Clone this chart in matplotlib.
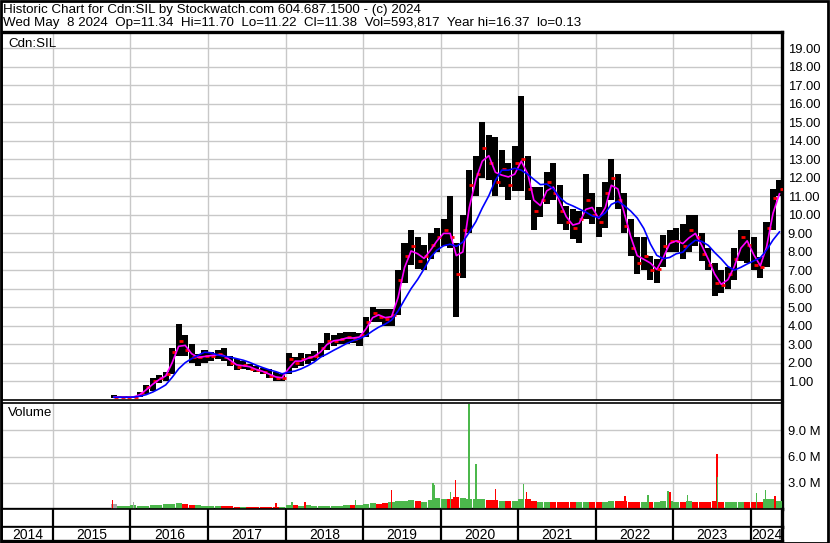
import matplotlib
matplotlib.use('Agg')
import matplotlib.pyplot as plt
from matplotlib.patches import Rectangle
import pandas as pd
import numpy as np

plt.rcParams['font.family'] = ['Liberation Sans', 'DejaVu Sans']

# monthly bars, Oct 2015 .. May 2024
months = pd.date_range('2015-10-01', '2024-05-01', freq='MS')

hi = [0.25, 0.20, 0.20,
      0.22, 0.45, 0.80, 1.20, 1.35, 1.50, 2.80, 4.10, 3.50, 3.00, 2.50, 2.70,
      2.60, 2.70, 2.80, 2.40, 2.20, 2.10, 1.95, 1.85, 1.75, 1.70, 1.50, 1.40,
      2.55, 2.30, 2.55, 2.50, 2.65, 3.10, 3.60, 3.50, 3.60, 3.70, 3.70, 3.60,
      4.50, 5.00, 4.90, 4.90, 4.90, 7.00, 8.50, 9.20, 8.80, 8.40, 9.00, 9.30,
      9.80, 11.0, 8.50, 10.0, 12.4, 13.2, 15.0, 14.3, 14.2, 13.5, 12.8, 13.7,
      16.4, 13.2, 11.5, 11.5, 12.3, 12.8, 11.6, 10.5, 10.3, 10.2, 12.2, 11.2,
      10.4, 11.8, 13.0, 12.2, 11.2, 9.80, 8.80, 8.80, 7.80, 7.60, 8.90, 9.20,
      9.30, 9.50, 10.0, 10.0, 9.00, 8.20, 7.40, 7.00, 7.20, 8.20, 9.20, 9.20,
      8.80, 7.70, 9.60, 11.4, 11.9]
lo = [0.12, 0.12, 0.12,
      0.13, 0.15, 0.35, 0.50, 0.90, 1.00, 1.40, 2.40, 2.40, 2.00, 1.85, 2.00,
      2.10, 2.20, 2.10, 1.85, 1.60, 1.70, 1.60, 1.50, 1.40, 1.20, 1.05, 1.05,
      1.40, 1.75, 1.85, 1.95, 2.10, 2.30, 2.70, 2.90, 3.00, 3.00, 3.10, 2.90,
      3.40, 4.20, 4.20, 4.00, 4.00, 4.60, 6.30, 7.30, 7.10, 7.00, 7.60, 8.00,
      8.30, 8.20, 4.50, 6.60, 9.00, 11.0, 12.0, 11.9, 11.0, 11.5, 10.8, 11.3,
      11.3, 10.8, 9.20, 9.90, 10.6, 10.8, 9.50, 9.20, 8.70, 8.50, 9.80, 9.50,
      8.80, 9.30, 10.8, 10.3, 9.00, 7.80, 6.80, 7.00, 6.50, 6.30, 7.20, 8.00,
      8.00, 7.60, 8.00, 8.30, 7.50, 7.00, 5.60, 5.80, 6.00, 6.50, 7.50, 7.40,
      7.00, 6.60, 7.20, 9.20, 11.0]
close = [0.15, 0.15, 0.15,
         0.18, 0.40, 0.70, 1.00, 1.20, 1.40, 2.60, 3.20, 2.70, 2.30, 2.30, 2.40,
         2.40, 2.50, 2.30, 2.00, 1.80, 1.90, 1.70, 1.60, 1.50, 1.30, 1.20, 1.20,
         2.20, 2.00, 2.20, 2.30, 2.40, 2.80, 3.20, 3.20, 3.30, 3.40, 3.30, 3.50,
         4.20, 4.70, 4.50, 4.40, 4.60, 6.50, 7.80, 8.30, 7.50, 7.80, 8.40, 8.80,
         9.20, 8.80, 6.80, 9.20, 11.6, 12.2, 13.6, 12.8, 11.8, 12.5, 11.6, 12.8,
         13.0, 11.4, 10.2, 10.8, 11.8, 11.2, 10.2, 9.60, 9.30, 9.80, 10.8, 10.0,
         9.60, 11.2, 12.0, 10.8, 9.40, 8.20, 7.40, 7.80, 7.00, 7.10, 8.30, 8.60,
         8.60, 8.30, 9.20, 8.80, 7.90, 7.30, 6.30, 6.20, 6.80, 7.60, 8.80, 8.40,
         7.30, 7.20, 9.30, 10.9, 11.38]
# typical daily volume in each month, millions
vol = [0.60, 0.30, 0.35,
       0.50, 0.35, 0.40, 0.45, 0.50, 0.55, 0.60, 0.65, 0.55, 0.50, 0.45, 0.40,
       0.35, 0.35, 0.30, 0.30, 0.25, 0.25, 0.20, 0.20, 0.20, 0.20, 0.25, 0.25,
       0.45, 0.50, 0.40, 0.45, 0.35, 0.35, 0.40, 0.40, 0.40, 0.45, 0.50, 0.50,
       0.60, 0.65, 0.60, 0.65, 0.80, 0.90, 0.90, 1.00, 0.90, 0.80, 1.00, 1.30,
       1.10, 1.20, 1.40, 1.30, 1.20, 1.10, 1.10, 1.00, 1.00, 0.90, 0.90, 0.90,
       1.10, 1.20, 0.90, 0.85, 0.80, 0.80, 0.80, 0.75, 0.80, 0.80, 0.80, 0.75,
       0.80, 0.80, 0.90, 0.90, 0.90, 0.80, 0.80, 0.80, 0.80, 0.80, 0.90, 0.90,
       0.80, 0.85, 0.90, 0.85, 0.80, 0.75, 0.90, 0.80, 0.75, 0.80, 0.85, 0.85,
       0.85, 0.85, 1.10, 1.10, 0.90]

# single-day volume spikes
spike_days = ['2015-10-09', '2016-01-16', '2017-11-17', '2018-02-01', '2018-04-03',
              '2018-11-27', '2019-05-15', '2019-11-26', '2019-12-03', '2020-02-17',
              '2020-03-11', '2020-05-14', '2020-06-15', '2020-09-16', '2021-01-25',
              '2021-02-08', '2022-05-18', '2022-09-03', '2022-12-06', '2022-12-17',
              '2023-03-10', '2023-07-26', '2023-07-29', '2024-01-28', '2024-03-10',
              '2024-04-23']
spike_vol = [1.08, 0.77, 0.70, 0.85, 0.77, 1.08, 2.2, 3.0, 2.7, 1.9,
             3.3, 12.0, 5.2, 2.3, 2.9, 1.9, 1.5, 1.6, 2.1, 2.0,
             1.6, 6.3, 3.65, 1.8, 2.2, 1.5]
spike_up = [0, 2, 0, 1, 0, 1, 0, 1, 1, 1,
            0, 1, 1, 0, 1, 0, 0, 1, 1, 0,
            1, 0, 1, 1, 1, 0]

price_ticks = list(range(1, 20))
vol_ticks = [3, 6, 9]
years = list(range(2014, 2025))

RED = '#ff0000'
GREEN = '#4cb84c'
GREY = '#a8a8a8'
GRID = '#c8c8c8'
FS = 9.6

W, H = 830, 543
fig = plt.figure(figsize=(W / 100, H / 100), dpi=100)

def box(x0, y0, x1, y1):
    return [x0 / W, 1 - y1 / H, (x1 - x0) / W, (y1 - y0) / H]

xmin = pd.Timestamp('2014-05-06')
xmax = pd.Timestamp('2024-05-27')
bounds = [pd.Timestamp(f'{y}-01-01') for y in years[1:]]

mid = months + pd.Timedelta(days=14)
s_close = pd.Series(close)
ma_short = s_close.rolling(2, min_periods=1).mean()
ma_long = s_close.rolling(6, min_periods=1).mean()

# ---- price panel
ax = fig.add_axes(box(2, 32, 782, 400))
ax.bar(mid, np.array(hi) - np.array(lo), bottom=lo, width=29, color='black',
       lw=0, zorder=3)
ax.plot(mid + pd.Timedelta(days=10), close, ls='none', marker='_', color=RED,
        ms=3, mew=2, zorder=4)
ax.plot(mid, ma_short, color='#ff00ff', lw=1.2, zorder=5)
ax.plot(mid, ma_long, color='#0000ff', lw=1.2, zorder=5)
ax.set_xlim(xmin, xmax)
ax.set_ylim(0, 19.88)
ax.set_yticks(price_ticks)
ax.set_yticklabels([f'{v:.2f}' for v in price_ticks])
ax.set_xticks(bounds)
ax.grid(True, color=GRID, lw=1)
ax.yaxis.tick_right()
ax.tick_params(axis='y', length=0, pad=4, labelsize=9.4)
ax.tick_params(axis='x', length=0, labelbottom=False)
ax.text(6 / 780, 1 - 12 / 368, 'Cdn:SIL', transform=ax.transAxes, fontsize=FS,
        va='center', ha='left')
for side in ['left', 'bottom']:
    ax.spines[side].set_linewidth(1.2)
ax.spines['top'].set_linewidth(2.4)
ax.spines['right'].set_linewidth(2.4)

# ---- volume panel
axv = fig.add_axes(box(2, 403, 782, 509))
cols = [GREY] + [GREEN if close[i] >= close[i - 1] else RED for i in range(1, len(close))]
axv.bar(mid, vol, width=29, color=cols, lw=0, zorder=3)
sc = [RED, GREEN, GREY]
axv.bar(pd.to_datetime(spike_days), spike_vol, width=7,
        color=[sc[u] for u in spike_up], lw=0, zorder=4)
axv.set_xlim(xmin, xmax)
axv.set_ylim(0, 12.15)
axv.set_yticks(vol_ticks)
axv.set_yticklabels([f'{v:.1f} M' for v in vol_ticks])
axv.set_xticks(bounds)
axv.grid(True, color=GRID, lw=1)
axv.yaxis.tick_right()
axv.tick_params(axis='y', length=0, pad=4, labelsize=9.4)
axv.tick_params(axis='x', length=0, labelbottom=False)
axv.text(6 / 780, 1 - 10 / 106, 'Volume', transform=axv.transAxes, fontsize=FS,
         va='center', ha='left')
axv.spines['top'].set_linewidth(1.2)
axv.spines['bottom'].set_linewidth(2.4)
axv.spines['right'].set_linewidth(2.4)

# ---- blank strip and year row
for y0, y1, lab in [(509, 527, False), (527, 541, True)]:
    a = fig.add_axes(box(2, y0, 782, y1))
    a.set_xlim(xmin, xmax)
    a.set_ylim(0, 1)
    a.set_xticks([])
    a.set_yticks([])
    for b in bounds:
        a.axvline(b, color='black', lw=1.6)
    for side in a.spines:
        a.spines[side].set_linewidth(2.4 if side in ('bottom', 'right') else 1.2)
    if lab:
        for y in years:
            l = max(xmin, pd.Timestamp(f'{y}-01-01'))
            r = min(xmax, pd.Timestamp(f'{y + 1}-01-01'))
            a.text(l + (r - l) / 2, 0.42, str(y), ha='center', va='center',
                   fontsize=10)

# ---- header
fig.text(3 / W, 1 - 9.5 / H, 'Historic Chart for Cdn:SIL by Stockwatch.com 604.687.1500 - (c) 2024',
         fontsize=FS, va='center', ha='left')
fig.text(3 / W, 1 - 23 / H,
         'Wed May  8 2024  Op=11.34  Hi=11.70  Lo=11.22  Cl=11.38  Vol=593,817  Year hi=16.37  lo=0.13',
         fontsize=FS, va='center', ha='left')
fig.patches.append(Rectangle((0.5 / W, 0.5 / H), (W - 2.5) / W, (H - 1.5) / H,
                             transform=fig.transFigure, fill=False, lw=2.0,
                             edgecolor='black'))

fig.savefig('out.png', dpi=100)
